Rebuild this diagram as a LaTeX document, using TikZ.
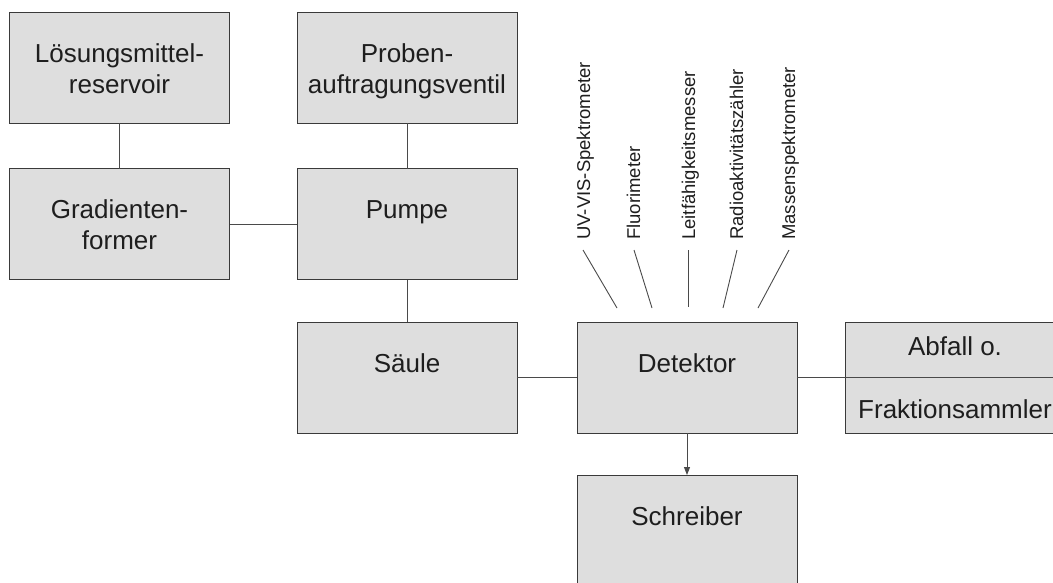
\documentclass[tikz,border=0pt]{standalone}
\usepackage{fontspec}
\setmainfont{Liberation Sans}
\usetikzlibrary{arrows.meta}
\definecolor{boxfill}{HTML}{DEDEDE}
\definecolor{boxline}{HTML}{3A3A3A}
\definecolor{connc}{HTML}{4A4A4A}
\definecolor{txtc}{HTML}{1E1E1E}
\begin{document}
\begin{tikzpicture}[x=1pt,y=-1pt,
  box/.style={draw=boxline, fill=boxfill, line width=0.9pt, minimum width=220pt, minimum height=111pt, inner sep=0pt, outer sep=0pt},
  txt/.style={font=\fontsize{26}{31}\selectfont, text=txtc, align=center, inner sep=0pt},
  vlab/.style={font=\fontsize{18.5}{22}\selectfont, text=txtc, rotate=90, anchor=base west, inner sep=0pt},
  conn/.style={draw=connc, line width=0.9pt}]
\useasboundingbox (0,0) rectangle (1053,582);
\clip (0,0) rectangle (1053,582);
\fill[white] (0,0) rectangle (1053,582);
% boxes
\node[box] (loes) at (119.5,67.5) {};
\node[box] (grad) at (119.5,224) {};
\node[box] (prob) at (407,67.5) {};
\node[box] (pump) at (407,224) {};
\node[box] (saeule) at (407,377.5) {};
\node[box] (det) at (687,377.5) {};
\node[box] (abf) at (955,377.5) {};
\node[box] (schr) at (687,530.5) {};
% texts
\node[txt, anchor=north] (loes-t) at ([yshift=-28.3pt]loes.north) {\strut Lösungsmittel-\\\strut reservoir};
\node[txt, anchor=north] (grad-t) at ([yshift=-28.3pt]grad.north) {\strut Gradienten-\\\strut former};
\node[txt, anchor=north] (prob-t) at ([yshift=-28.3pt]prob.north) {\strut Proben-\\\strut auftragungsventil};
\node[txt, anchor=north] (pump-t) at ([yshift=-28.3pt]pump.north) {\strut Pumpe};
\node[txt, anchor=north] (saeule-t) at ([yshift=-28.3pt]saeule.north) {\strut Säule};
\node[txt, anchor=north] (det-t) at ([yshift=-28.3pt]det.north) {\strut Detektor};
\node[txt, anchor=north] (schr-t) at ([yshift=-28.3pt]schr.north) {\strut Schreiber};
\node[txt, anchor=base] (abf-t1) at ([yshift=-33pt]abf.north) {Abfall o.};
\node[txt, anchor=base] (abf-t2) at ([yshift=-96pt]abf.north) {Fraktionsammler};
% connectors
\draw[conn] (loes) -- (grad);
\draw[conn] (grad) -- (pump);
\draw[conn] (prob) -- (pump);
\draw[conn] (pump) -- (saeule);
\draw[conn] (saeule) -- (det);
\draw[conn] (det) -- (abf.east);
\draw[conn, -{Triangle[length=8pt,width=6pt]}] (det) -- (schr);
% detector labels
\node[vlab] (uv) at (590,240) {UV-VIS-Spektrometer};
\node[vlab] (fluo) at (640,240) {Fluorimeter};
\node[vlab] (leit) at (695,240) {Leitfähigkeitsmesser};
\node[vlab] (radio) at (743,240) {Radioaktivitätszähler};
\node[vlab] (mass) at (795,240) {Massenspektrometer};
\coordinate (uv-a) at (583,250);   \coordinate (uv-b) at (617,308);
\coordinate (fluo-a) at (634,250); \coordinate (fluo-b) at (652,308);
\coordinate (leit-a) at (688,250); \coordinate (leit-b) at (688,307);
\coordinate (radio-a) at (737,250);\coordinate (radio-b) at (723,308);
\coordinate (mass-a) at (789,250); \coordinate (mass-b) at (758,308);
\draw[conn] (uv-a) -- (uv-b);
\draw[conn] (fluo-a) -- (fluo-b);
\draw[conn] (leit-a) -- (leit-b);
\draw[conn] (radio-a) -- (radio-b);
\draw[conn] (mass-a) -- (mass-b);
\end{tikzpicture}
\end{document}
